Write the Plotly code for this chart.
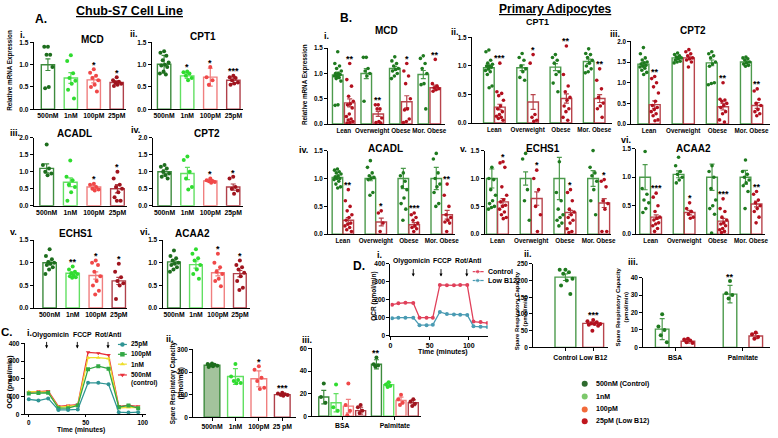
import plotly.graph_objects as go

W, H = 778, 438
FONT = "Liberation Sans"

# ====================== DATA ======================
A_doses = ["500nM", "1nM", "100pM", "25pM"]

A_MCD_mean = [1.00, 0.70, 0.66, 0.60]
A_MCD_sem = [0.13, 0.12, 0.07, 0.04]
A_MCD_sig = ["", "", "*", "*"]
A_MCD_dots = [[1.40, 1.40, 1.22, 1.22, 0.95, 0.50, 0.47],
              [1.21, 1.08, 0.81, 0.70, 0.64, 0.57, 0.44, 0.24],
              [0.90, 0.82, 0.75, 0.70, 0.65, 0.55, 0.50, 0.40],
              [0.72, 0.65, 0.62, 0.60, 0.57, 0.55, 0.52]]

A_CPT1_mean = [1.01, 0.75, 0.72, 0.65]
A_CPT1_sem = [0.20, 0.06, 0.20, 0.08]
A_CPT1_sig = ["", "*", "*", "***"]
A_CPT1_dots = [[1.30, 1.27, 1.20, 1.10, 1.05, 1.00, 0.98, 0.95, 0.85, 0.80, 0.78],
               [0.85, 0.83, 0.80, 0.75, 0.70, 0.65],
               [0.95, 0.72, 0.65, 0.55],
               [0.75, 0.72, 0.70, 0.65, 0.60, 0.58, 0.55]]

A_ACADL_mean = [1.10, 0.69, 0.55, 0.50]
A_ACADL_sem = [0.13, 0.13, 0.05, 0.12]
A_ACADL_sig = ["", "", "*", "*"]
A_ACADL_dots = [[1.80, 1.20, 1.10, 1.00, 0.95, 0.90],
                [1.33, 0.85, 0.75, 0.62, 0.55, 0.40, 0.15],
                [0.65, 0.62, 0.55, 0.50, 0.48, 0.45],
                [1.00, 0.80, 0.62, 0.55, 0.50, 0.40, 0.25, 0.15, 0.15]]

A_CPT2_mean = [1.00, 0.95, 0.73, 0.55]
A_CPT2_sem = [0.06, 0.18, 0.03, 0.09]
A_CPT2_sig = ["", "", "*", "*"]
A_CPT2_dots = [[1.20, 1.15, 1.10, 1.00, 0.95, 0.90, 0.85, 0.80],
               [1.45, 1.35, 1.00, 0.80, 0.55, 0.48],
               [0.80, 0.75, 0.73, 0.72, 0.70, 0.68],
               [0.85, 0.80, 0.55, 0.50, 0.45, 0.35]]

A_ECHS1_mean = [1.00, 0.77, 0.72, 0.60]
A_ECHS1_sem = [0.04, 0.03, 0.08, 0.08]
A_ECHS1_sig = ["", "**", "*", "*"]
A_ECHS1_dots = [[1.30, 1.15, 1.08, 1.02, 1.00, 0.98, 0.95, 0.90, 0.85, 0.75],
                [0.92, 0.85, 0.80, 0.77, 0.75, 0.72, 0.70, 0.68, 0.67],
                [1.05, 1.00, 0.95, 0.80, 0.70, 0.60, 0.50, 0.38, 0.30],
                [0.98, 0.80, 0.68, 0.60, 0.55, 0.50, 0.20]]

A_ACAA2_mean = [1.02, 0.96, 0.78, 0.76]
A_ACAA2_sem = [0.04, 0.08, 0.07, 0.07]
A_ACAA2_sig = ["", "", "*", "*"]
A_ACAA2_dots = [[1.27, 1.15, 1.10, 1.05, 1.00, 0.98, 0.95, 0.90, 0.85, 0.80],
                [1.30, 1.20, 1.10, 1.05, 0.95, 0.85, 0.75, 0.65],
                [1.20, 1.00, 0.90, 0.80, 0.75, 0.65, 0.60, 0.48],
                [1.05, 0.95, 0.90, 0.85, 0.78, 0.70, 0.60, 0.45, 0.40]]

B_groups = ["Lean", "Overweight", "Obese", "Mor. Obese"]

B_MCD_ctrl_mean = [0.97, 1.00, 1.10, 0.98]
B_MCD_ctrl_sem = [0.06, 0.10, 0.04, 0.08]
B_MCD_ctrl_dots = [[1.43, 1.20, 1.15, 1.10, 1.05, 1.00, 1.00, 0.98, 0.95, 0.95, 0.92, 0.90, 0.85, 0.38, 0.37],
                   [1.32, 1.32, 1.10, 1.05, 1.00, 0.95, 0.45],
                   [1.33, 1.25, 1.20, 1.15, 1.10, 1.08, 1.05, 1.00, 0.95, 0.90],
                   [1.35, 1.30, 1.20, 1.10, 1.00, 0.80, 0.78, 0.30]]
B_MCD_low_mean = [0.42, 0.20, 0.44, 0.72]
B_MCD_low_sem = [0.08, 0.05, 0.12, 0.05]
B_MCD_low_dots = [[1.20, 0.88, 0.75, 0.55, 0.45, 0.40, 0.38, 0.32, 0.20, 0.15, 0.10, 0.08, 0.05, 0.03, 0.02],
                  [0.38, 0.38, 0.30, 0.30, 0.12, 0.05, 0.03, 0.02],
                  [1.20, 1.05, 0.95, 0.80, 0.50, 0.30, 0.28, 0.10, 0.05, 0.03],
                  [1.28, 0.80, 0.75, 0.72, 0.70, 0.68, 0.65]]
B_MCD_sig = ["**", "**", "*", "**"]

B_CPT1_ctrl_mean = [0.97, 0.97, 0.98, 1.08]
B_CPT1_ctrl_sem = [0.04, 0.05, 0.06, 0.04]
B_CPT1_ctrl_dots = [[1.28, 1.25, 1.10, 1.05, 1.03, 1.00, 1.00, 0.98, 0.95, 0.92, 0.90, 0.85, 0.65, 0.62],
                    [1.22, 1.15, 1.10, 1.00, 0.95, 0.90, 0.80, 0.75],
                    [1.20, 1.15, 1.10, 1.05, 0.90, 0.85, 0.70, 0.55],
                    [1.30, 1.22, 1.20, 1.15, 1.10, 1.05, 1.00, 0.95, 0.90, 0.88]]
B_CPT1_low_mean = [0.28, 0.37, 0.43, 0.43]
B_CPT1_low_sem = [0.05, 0.13, 0.08, 0.07]
B_CPT1_low_dots = [[1.05, 0.55, 0.52, 0.48, 0.40, 0.30, 0.25, 0.20, 0.15, 0.12, 0.10, 0.08, 0.05],
                   [1.20, 1.05, 0.15, 0.10, 0.05, 0.03],
                   [1.35, 0.85, 0.65, 0.55, 0.45, 0.40, 0.30, 0.25, 0.20, 0.10, 0.05],
                   [0.95, 0.75, 0.60, 0.45, 0.35, 0.30, 0.25, 0.10]]
B_CPT1_sig = ["***", "*", "**", "**"]

B_CPT2_ctrl_mean = [1.45, 1.60, 1.48, 1.50]
B_CPT2_ctrl_sem = [0.04, 0.03, 0.07, 0.03]
B_CPT2_ctrl_dots = [[1.85, 1.70, 1.60, 1.55, 1.50, 1.48, 1.45, 1.42, 1.40, 1.38, 1.35, 1.30, 1.25, 1.20],
                    [1.72, 1.68, 1.65, 1.62, 1.60, 1.58, 1.55, 1.52, 1.50, 1.48],
                    [1.75, 1.70, 1.65, 1.60, 1.50, 1.45, 1.40, 1.00, 0.98, 0.95],
                    [1.62, 1.60, 1.58, 1.55, 1.50, 1.48, 1.45, 1.42, 1.40]]
B_CPT2_low_mean = [0.47, 1.60, 0.42, 0.45]
B_CPT2_low_sem = [0.09, 0.04, 0.08, 0.07]
B_CPT2_low_dots = [[1.15, 1.10, 1.00, 0.90, 0.75, 0.55, 0.45, 0.40, 0.35, 0.30, 0.25, 0.20, 0.10, 0.08],
                   [1.80, 1.75, 1.70, 1.65, 1.60, 1.58, 1.55, 1.50, 1.38],
                   [1.00, 0.60, 0.58, 0.55, 0.50, 0.45, 0.40, 0.30, 0.25, 0.10, 0.05],
                   [0.85, 0.80, 0.60, 0.50, 0.45, 0.35, 0.30, 0.25, 0.20]]
B_CPT2_sig = ["**", "", "**", "**"]

B_ACADL_ctrl_mean = [1.02, 1.00, 1.00, 1.00]
B_ACADL_ctrl_sem = [0.02, 0.04, 0.18, 0.20]
B_ACADL_ctrl_dots = [[1.17, 1.15, 1.12, 1.10, 1.08, 1.05, 1.03, 1.00, 1.00, 0.98, 0.95, 0.90, 0.85, 0.83],
                     [1.32, 1.20, 1.10, 1.05, 1.02, 1.00, 0.98, 0.75, 0.70],
                     [1.10, 1.05, 0.95, 0.85, 0.80, 0.65, 0.55, 0.45, 0.25],
                     [1.45, 1.35, 1.10, 1.00, 0.90, 0.85, 0.75, 0.55, 0.50]]
B_ACADL_low_mean = [0.25, 0.22, 0.17, 0.35]
B_ACADL_low_sem = [0.05, 0.07, 0.04, 0.08]
B_ACADL_low_dots = [[0.80, 0.60, 0.50, 0.42, 0.35, 0.30, 0.25, 0.20, 0.18, 0.15, 0.12, 0.08, 0.05],
                    [0.42, 0.38, 0.20, 0.05],
                    [0.38, 0.35, 0.30, 0.25, 0.20, 0.15, 0.12, 0.10, 0.05],
                    [0.90, 0.70, 0.50, 0.35, 0.30, 0.25, 0.22, 0.20, 0.05]]
B_ACADL_sig = ["**", "*", "***", "**"]

B_ECHS1_ctrl_mean = [1.00, 1.00, 1.00, 1.00]
B_ECHS1_ctrl_sem = [0.17, 0.12, 0.38, 0.14]
B_ECHS1_ctrl_dots = [[1.20, 1.00, 0.98, 0.80, 0.70, 0.60, 0.55, 0.50, 0.48, 0.45],
                     [1.45, 1.35, 0.80, 0.60, 0.25],
                     [1.30, 0.75, 0.60, 0.45, 0.35, 0.30, 0.25, 0.20, 0.15],
                     [1.50, 1.20, 1.10, 1.05, 0.95, 0.80, 0.60, 0.35]]
B_ECHS1_low_mean = [0.58, 0.64, 0.39, 0.56]
B_ECHS1_low_sem = [0.06, 0.12, 0.04, 0.08]
B_ECHS1_low_dots = [[1.30, 1.28, 1.20, 0.85, 0.70, 0.62, 0.58, 0.52, 0.50, 0.45, 0.40, 0.35, 0.30, 0.28],
                    [1.15, 1.00, 0.80, 0.50, 0.35, 0.05],
                    [0.80, 0.75, 0.60, 0.45, 0.40, 0.35, 0.30, 0.25, 0.20, 0.10, 0.05, 0.03],
                    [0.98, 0.95, 0.85, 0.60, 0.55, 0.45, 0.05, 0.05]]
B_ECHS1_sig = ["*", "*", "*", "*"]

B_ACAA2_ctrl_mean = [1.00, 1.05, 1.00, 1.00]
B_ACAA2_ctrl_sem = [0.22, 0.06, 0.23, 0.12]
B_ACAA2_ctrl_dots = [[1.45, 0.80, 0.70, 0.60, 0.55, 0.45, 0.38],
                     [1.35, 1.20, 1.10, 1.05, 1.00, 0.95, 0.90],
                     [1.20, 1.10, 1.00, 0.80, 0.60, 0.50, 0.45, 0.35, 0.02],
                     [1.30, 1.10, 1.05, 1.00, 0.95, 0.90, 0.85, 0.75, 0.45]]
B_ACAA2_low_mean = [0.30, 0.38, 0.23, 0.53]
B_ACAA2_low_sem = [0.04, 0.04, 0.05, 0.05]
B_ACAA2_low_dots = [[0.72, 0.65, 0.50, 0.40, 0.30, 0.28, 0.25, 0.20, 0.18, 0.15, 0.10, 0.05],
                    [0.55, 0.45, 0.40, 0.35, 0.30, 0.28],
                    [0.62, 0.45, 0.40, 0.30, 0.25, 0.20, 0.18, 0.15, 0.10, 0.08, 0.05, 0.03],
                    [0.75, 0.70, 0.60, 0.55, 0.50, 0.45, 0.40, 0.30, 0.20]]
B_ACAA2_sig = ["***", "*", "***", "**"]

C_time = [0, 8.5, 17, 26, 34.5, 43, 52, 61, 70, 79, 87.5, 96]
C_ocr_25pM = [85, 78, 90, 25, 25, 28, 178, 178, 170, 12, 10, 12]
C_ocr_100pM = [118, 120, 122, 35, 35, 50, 255, 272, 258, 40, 50, 35]
C_ocr_1nM = [128, 125, 125, 40, 45, 50, 320, 320, 315, 35, 40, 38]
C_ocr_500nM = [124, 130, 132, 45, 50, 55, 350, 345, 335, 45, 50, 45]
C_injections = ["Olygomicin", "FCCP", "Rot/Anti"]

C_src_labels = ["500nM", "1nM", "100pM", "25 pM"]
C_src_mean = [230, 180, 170, 100]
C_src_sem = [6, 35, 35, 5]
C_src_sig = ["", "", "*", "***"]
C_src_dots = [[238, 235, 232, 230, 228, 225, 222],
              [235, 180, 165, 160, 152, 150],
              [225, 210, 175, 160, 130, 125],
              [108, 105, 102, 100, 98, 95]]

C_fa_groups = ["BSA", "Palmitate"]
C_fa_bsa_mean = [17, 12, 9, 5]
C_fa_bsa_sem = [6, 8, 6, 3]
C_fa_bsa_dots = [[29, 17, 12], [28, 8, 5], [29, 10, 5, 1], [10, 8, 5, 3]]
C_fa_palm_mean = [46, 28, 14, 12]
C_fa_palm_sem = [4, 2, 3, 2.5]
C_fa_palm_dots = [[52, 46, 45, 44], [30, 28, 27, 26], [19, 15, 12, 10], [15, 13, 11, 9]]
C_fa_palm_sig = ["**", "", "", ""]

D_time = [2, 10, 19, 29, 37, 46, 54, 63, 72, 81, 89, 98, 106, 115, 124]
D_ocr_control = [172, 180, 183, 182, 100, 100, 100, 282, 280, 280, 282, 282, 78, 76, 70]
D_ocr_low = [96, 100, 100, 100, 58, 58, 60, 132, 120, 118, 116, 115, 52, 50, 48]

D_src_labels = ["Control", "Low B12"]
D_src_mean = [210, 72]
D_src_sem = [10, 4]
D_src_sig = ["", "***"]
D_src_dots = [[232, 232, 225, 220, 205, 200, 185, 160],
              [82, 78, 75, 72, 70, 70, 68, 65, 50]]

D_fa_groups = ["BSA", "Palmitate"]
D_fa_ctrl_mean = [10.5, 30.5]
D_fa_ctrl_sem = [6, 5]
D_fa_ctrl_dots = [[19, 12, 10, 7, 3], [38, 31, 30, 28]]
D_fa_low_mean = [3.5, 6.5]
D_fa_low_sem = [1, 1.5]
D_fa_low_dots = [[5, 4.5, 4, 3, 2.5], [8.5, 7.5, 6, 5]]
D_fa_sig = ["", "**"]

legend_labels = ["500nM (Control)", "1nM", "100pM", "25pM (Low B12)"]

# ====================== STYLE ======================
A_line = ["#3d8b3d", "#62e062", "#f07f7f", "#b0404a"]
A_dot = ["#1e6e1e", "#2fdc2f", "#f04848", "#a0141e"]
B_line = ["#4c9a4c", "#b8444c"]
B_dot = ["#1f7a1f", "#b3101e"]
C_line_cols = {"25pM": "#2f9494", "100pM": "#33a844", "1nM": "#eede2c", "500nM": "#e8303a"}
D_line_cols = {"Control": "#e0405a", "Low B12": "#4a9bb3"}
LEG_COLS = ["#2e6b2e", "#7cc86b", "#f26a3a", "#c0161e"]

fig = go.Figure()
layout = dict(width=W, height=H, margin=dict(l=0, r=0, t=0, b=0),
              paper_bgcolor="white", plot_bgcolor="rgba(0,0,0,0)",
              barmode="overlay", showlegend=False,
              font=dict(family=FONT, color="black"))
annotations = []
n_ax = [0]


def P(x, y):
    return x / W, 1 - y / H


def text(x, y, s, size=8, bold=True, angle=0, color="black", xanchor="center", yanchor="middle"):
    px, py = P(x, y)
    annotations.append(dict(x=px, y=py, xref="paper", yref="paper", text=s, showarrow=False,
                            textangle=angle, xanchor=xanchor, yanchor=yanchor,
                            font=dict(family=FONT, size=size, color=color,
                                      weight="bold" if bold else "normal")))


def arrow(x, y0, y1):
    px, py = P(x, y1)
    annotations.append(dict(x=px, y=py, xref="paper", yref="paper", text="", showarrow=True,
                            ax=0, ay=-(y1 - y0), arrowhead=2, arrowsize=0.7, arrowwidth=0.9,
                            arrowcolor="black"))


def axes(box, xr, yr, xticks=None, xlabels=None, ydtick=None, yfmt=None, xtick_len=0,
         xfont=7, yfont=7, xdtick=None):
    n_ax[0] += 1
    s = "" if n_ax[0] == 1 else str(n_ax[0])
    x0, yt, x1, yb = box
    tf = dict(family=FONT, size=xfont, color="black", weight="bold")
    xa = dict(domain=[x0 / W, x1 / W], anchor="y" + s, range=xr, showline=True,
              linecolor="black", linewidth=1, showgrid=False, zeroline=False,
              ticks="outside" if xtick_len else "", ticklen=xtick_len, tickwidth=1,
              tickcolor="black", tickangle=0, tickfont=tf, fixedrange=True)
    if xticks is not None:
        xa.update(tickmode="array", tickvals=xticks, ticktext=xlabels)
    elif xdtick is not None:
        xa.update(tick0=0, dtick=xdtick)
    ya = dict(domain=[1 - yb / H, 1 - yt / H], anchor="x" + s, range=yr, showline=True,
              linecolor="black", linewidth=1, showgrid=False, zeroline=False,
              ticks="outside", ticklen=3, tickwidth=1, tickcolor="black",
              tick0=0, dtick=ydtick, tickformat=yfmt,
              tickfont=dict(family=FONT, size=yfont, color="black", weight="bold"),
              fixedrange=True)
    layout["xaxis" + s] = xa
    layout["yaxis" + s] = ya
    return "x" + s, "y" + s


def spread(n, half):
    if n <= 1:
        return [0.0]
    return [half * ((((k * 0.6180339) + 0.5) % 1.0) * 2 - 1) for k in range(n)]


def add_bar(xa, ya, pos, mean, sem, dots, lc, dc, width, dsize, fill="white", lw=1.4):
    fig.add_trace(go.Bar(x=[pos], y=[mean], width=width, xaxis=xa, yaxis=ya,
                         marker=dict(color=fill, line=dict(color=lc, width=lw)),
                         error_y=dict(type="data", array=[sem], color=lc, thickness=1.2,
                                      width=2.5),
                         hoverinfo="skip"))
    offs = spread(len(dots), width * 0.36)
    fig.add_trace(go.Scatter(x=[pos + o for o in offs], y=dots, xaxis=xa, yaxis=ya,
                             mode="markers", marker=dict(color=dc, size=dsize),
                             hoverinfo="skip", cliponaxis=False))
    return max(max(dots), mean + sem)


def star(xa, ya, pos, top, s, rng, size=9):
    if not s:
        return
    annotations.append(dict(x=pos, y=top + rng * 0.02, xref=xa, yref=ya, text=s,
                            showarrow=False, yanchor="bottom", yshift=-4,
                            font=dict(family=FONT, size=size, color="black", weight="bold")))


# ====================== PANEL A ======================
A_panels = [
    ((32, 39, 125, 107), [-0.62, 3.4], 1.5, A_MCD_mean, A_MCD_sem, A_MCD_dots, A_MCD_sig),
    ((151, 39, 243, 107), [-0.54, 3.41], 1.5, A_CPT1_mean, A_CPT1_sem, A_CPT1_dots, A_CPT1_sig),
    ((32, 136, 126, 205), [-0.55, 3.4], 2.0, A_ACADL_mean, A_ACADL_sem, A_ACADL_dots, A_ACADL_sig),
    ((152, 136, 243, 205), [-0.52, 3.42], 2.0, A_CPT2_mean, A_CPT2_sem, A_CPT2_dots, A_CPT2_sig),
    ((32, 240, 126, 309), [-0.69, 3.35], 1.5, A_ECHS1_mean, A_ECHS1_sem, A_ECHS1_dots, A_ECHS1_sig),
    ((162, 240, 250, 309), [-0.52, 3.45], 1.5, A_ACAA2_mean, A_ACAA2_sem, A_ACAA2_dots, A_ACAA2_sig),
]
for box, xr, ymax, means, sems, dots, sig in A_panels:
    xa, ya = axes(box, xr, [0, ymax], xticks=list(range(4)), xlabels=A_doses,
                  ydtick=0.5, yfmt=".1f", xfont=6.8, yfont=6.5)
    for i in range(4):
        top = add_bar(xa, ya, i, means[i], sems[i], dots[i], A_line[i], A_dot[i], 0.58, 4)
        star(xa, ya, i, top, sig[i], ymax)

# ====================== PANEL B ======================
B_panels = [
    ((329, 45, 447, 122), [-0.55, 3.55], 1.5, 0.37, 0.21, "MCD"),
    ((474, 34, 616, 121), [-0.68, 3.55], 1.5, 0.32, 0.165, "CPT1"),
    ((635, 38, 775, 122), [-0.52, 3.54], 2.0, 0.32, 0.165, "CPT2"),
    ((329, 149, 457, 234), [-0.45, 3.4], 1.5, 0.32, 0.165, "ACADL"),
    ((487, 149, 615, 234), [-0.38, 3.38], 1.5, 0.32, 0.165, "ECHS1"),
    ((640, 147, 770, 234), [-0.43, 3.42], 1.5, 0.32, 0.165, "ACAA2"),
]
B_data = {
    "MCD": (B_MCD_ctrl_mean, B_MCD_ctrl_sem, B_MCD_ctrl_dots, B_MCD_low_mean, B_MCD_low_sem, B_MCD_low_dots, B_MCD_sig),
    "CPT1": (B_CPT1_ctrl_mean, B_CPT1_ctrl_sem, B_CPT1_ctrl_dots, B_CPT1_low_mean, B_CPT1_low_sem, B_CPT1_low_dots, B_CPT1_sig),
    "CPT2": (B_CPT2_ctrl_mean, B_CPT2_ctrl_sem, B_CPT2_ctrl_dots, B_CPT2_low_mean, B_CPT2_low_sem, B_CPT2_low_dots, B_CPT2_sig),
    "ACADL": (B_ACADL_ctrl_mean, B_ACADL_ctrl_sem, B_ACADL_ctrl_dots, B_ACADL_low_mean, B_ACADL_low_sem, B_ACADL_low_dots, B_ACADL_sig),
    "ECHS1": (B_ECHS1_ctrl_mean, B_ECHS1_ctrl_sem, B_ECHS1_ctrl_dots, B_ECHS1_low_mean, B_ECHS1_low_sem, B_ECHS1_low_dots, B_ECHS1_sig),
    "ACAA2": (B_ACAA2_ctrl_mean, B_ACAA2_ctrl_sem, B_ACAA2_ctrl_dots, B_ACAA2_low_mean, B_ACAA2_low_sem, B_ACAA2_low_dots, B_ACAA2_sig),
}
for box, xr, ymax, bw, off, key in B_panels:
    cm, cs, cd, lm, ls, ld, sig = B_data[key]
    xa, ya = axes(box, xr, [0, ymax], xticks=list(range(4)), xlabels=B_groups,
                  ydtick=0.5, yfmt=".1f", xfont=6.3, yfont=6.3)
    for g in range(4):
        add_bar(xa, ya, g - off, cm[g], cs[g], cd[g], B_line[0], B_dot[0], bw, 3.6)
        top = add_bar(xa, ya, g + off, lm[g], ls[g], ld[g], B_line[1], B_dot[1], bw, 3.6)
        star(xa, ya, g + off, top, sig[g], ymax)

# ====================== PANEL C ======================
xa, ya = axes((23, 345, 145, 417), [-3.5, 102.6], [0, 400], ydtick=100, xdtick=50,
              xtick_len=2, xfont=6.3, yfont=6.5)
for name, vals, sym in [("500nM", C_ocr_500nM, "triangle-down"), ("1nM", C_ocr_1nM, "triangle-up"),
                        ("100pM", C_ocr_100pM, "square"), ("25pM", C_ocr_25pM, "circle")]:
    fig.add_trace(go.Scatter(x=C_time, y=vals, xaxis=xa, yaxis=ya, mode="lines+markers",
                             line=dict(color=C_line_cols[name], width=1.3),
                             marker=dict(color=C_line_cols[name], size=4, symbol=sym),
                             hoverinfo="skip"))

xa, ya = axes((193, 351, 297, 420), [-0.8, 3.6], [0, 300], xticks=list(range(4)),
              xlabels=C_src_labels, ydtick=100, xtick_len=3, xfont=6.8, yfont=6.5)
for i in range(4):
    fill = "#a3c39c" if i == 0 else "white"
    top = add_bar(xa, ya, i, C_src_mean[i], C_src_sem[i], C_src_dots[i], A_line[i], A_dot[i],
                  0.67, 4, fill=fill)
    star(xa, ya, i, top, C_src_sig[i], 300)

xa, ya = axes((313, 350, 423, 419), [-0.57, 1.5], [0, 60], xticks=[0, 1],
              xlabels=C_fa_groups, ydtick=20, xtick_len=3, xfont=6.8, yfont=6.5)
offs4 = [-0.35, -0.117, 0.117, 0.35]
for i in range(4):
    add_bar(xa, ya, 0 + offs4[i], C_fa_bsa_mean[i], C_fa_bsa_sem[i], C_fa_bsa_dots[i],
            A_line[i], A_dot[i], 0.19, 4)
    top = add_bar(xa, ya, 1 + offs4[i], C_fa_palm_mean[i], C_fa_palm_sem[i], C_fa_palm_dots[i],
                  A_line[i], A_dot[i], 0.19, 4)
    star(xa, ya, 1 + offs4[i], top, C_fa_palm_sig[i], 60)

# ====================== PANEL D ======================
xa, ya = axes((392, 264, 490, 337), [-0.1, 124], [0, 400], ydtick=100, xdtick=50,
              xtick_len=3, xfont=7, yfont=6.5)
for name, vals in [("Control", D_ocr_control), ("Low B12", D_ocr_low)]:
    fig.add_trace(go.Scatter(x=D_time, y=vals, xaxis=xa, yaxis=ya, mode="lines+markers",
                             line=dict(color=D_line_cols[name], width=1.3),
                             marker=dict(color=D_line_cols[name], size=4),
                             hoverinfo="skip"))

xa, ya = axes((536, 264, 612, 349), [-1.16, 1.55], [0, 250], xticks=[0, 1],
              xlabels=D_src_labels, ydtick=50, xtick_len=3, xfont=6.8, yfont=6.5)
for i in range(2):
    top = add_bar(xa, ya, i, D_src_mean[i], D_src_sem[i], D_src_dots[i], B_line[i], B_dot[i],
                  0.75, 4)
    star(xa, ya, i, top, D_src_sig[i], 250)

xa, ya = axes((647, 278, 775, 349), [-0.47, 1.4], [0, 40], xticks=[0, 1],
              xlabels=D_fa_groups, ydtick=10, xtick_len=3, xfont=6.8, yfont=6.5)
for g in range(2):
    add_bar(xa, ya, g - 0.19, D_fa_ctrl_mean[g], D_fa_ctrl_sem[g], D_fa_ctrl_dots[g],
            B_line[0], B_dot[0], 0.2, 4)
    add_bar(xa, ya, g + 0.19, D_fa_low_mean[g], D_fa_low_sem[g], D_fa_low_dots[g],
            B_line[1], B_dot[1], 0.2, 4)
    top = max(max(D_fa_ctrl_dots[g]), D_fa_ctrl_mean[g] + D_fa_ctrl_sem[g])
    star(xa, ya, g - 0.19, top, D_fa_sig[g], 40)

# ====================== LEGEND OVERLAY AXIS ======================
n_ax[0] += 1
s = str(n_ax[0])
layout["xaxis" + s] = dict(domain=[0, 1], range=[0, W], visible=False, fixedrange=True,
                           anchor="y" + s)
layout["yaxis" + s] = dict(domain=[0, 1], range=[H, 0], visible=False, fixedrange=True,
                           anchor="x" + s)
LX, LY = "x" + s, "y" + s

# C.i legend
for (name, sym), yy in zip([("25pM", "circle"), ("100pM", "square"), ("1nM", "triangle-up"),
                            ("500nM", "triangle-down")], [346, 356, 366, 377]):
    fig.add_trace(go.Scatter(x=[117, 121.5, 126], y=[yy, yy, yy], xaxis=LX, yaxis=LY,
                             mode="lines", line=dict(color=C_line_cols[name], width=1.2),
                             hoverinfo="skip"))
    fig.add_trace(go.Scatter(x=[121.5], y=[yy], xaxis=LX, yaxis=LY, mode="markers",
                             marker=dict(color=C_line_cols[name], size=4.5, symbol=sym),
                             hoverinfo="skip"))
text(128, 346, "25pM", 6.5, xanchor="left")
text(128, 356, "100pM", 6.5, xanchor="left")
text(128, 366, "1nM", 6.5, xanchor="left")
text(128, 377, "500nM", 6.5, xanchor="left")
text(128, 385, "(control)", 6.5, xanchor="left")

# D.i legend
for name, yy in [("Control", 272), ("Low B12", 281)]:
    fig.add_trace(go.Scatter(x=[475, 480, 486], y=[yy, yy, yy], xaxis=LX, yaxis=LY,
                             mode="lines+markers",
                             line=dict(color=D_line_cols[name], width=1.2),
                             marker=dict(color=D_line_cols[name], size=[0, 4.5, 0]),
                             hoverinfo="skip"))
    text(488, yy, name, 7, xanchor="left")

# bottom-right legend
for lab, col, yy in zip(legend_labels, LEG_COLS, [386, 399, 412, 424]):
    fig.add_trace(go.Scatter(x=[588], y=[yy], xaxis=LX, yaxis=LY, mode="markers",
                             marker=dict(color=col, size=6), hoverinfo="skip"))
    text(597, yy, lab, 7, xanchor="left")

# ====================== TEXT ======================
text(129, 7, "<u>Chub-S7 Cell Line</u>", 12.5)
text(559, 5.5, "<u>Primary Adipocytes</u>", 12)
text(39, 15, "A.", 12)
text(347, 14, "B.", 12)
text(5, 333, "C.", 11.5)
text(360, 266, "D.", 12)

for s_, x_, y_ in [("i.", 21, 32), ("ii.", 133, 30), ("iii.", 13, 131), ("iv.", 135, 128),
                   ("v.", 12, 232), ("vi.", 144, 232),
                   ("i.", 327, 33), ("ii.", 457, 28), ("iii.", 619, 30), ("iv.", 304, 148),
                   ("v.", 466, 147), ("vi.", 630, 138),
                   ("i.", 28, 334), ("ii.", 170, 340), ("iii.", 308, 341),
                   ("i.", 381, 255), ("ii.", 531, 254), ("iii.", 637, 262)]:
    text(x_, y_, s_, 9)

for s_, x_, y_ in [("MCD", 91, 36), ("CPT1", 203, 33), ("ACADL", 73, 132), ("CPT2", 207, 132),
                   ("ECHS1", 75, 233), ("ACAA2", 192, 233),
                   ("MCD", 388, 27), ("CPT2", 697, 27), ("ACADL", 387, 147),
                   ("ECHS1", 546, 147), ("ACAA2", 698, 147)]:
    text(x_, y_, s_, 10)
text(540, 18.5, "CPT1", 9)

text(8, 384, "OCR (pmol/min)", 7, angle=-90)
text(8, 67, "Relative mRNA Expression", 6.3, angle=-90)
text(305, 82, "Relative mRNA Expression", 6.3, angle=-90)
text(376, 297, "OCR (pmol/min)", 6.5, angle=-90)
text(176, 385, "Spare Respiratory Capacity<br>(pmol/min)", 6.3, angle=-90)
text(524, 312, "Spare Respiratory Capacity<br>(pmol/min)", 6, angle=-90)
text(626, 308, "Spare Respiratory Capacity<br>(pmol/min)", 6, angle=-90)
text(80, 433, "Time (minutes)", 6.8)
text(445, 354, "Time (minutes)", 7)

for lab, lx, ax_ in zip(C_injections, [49, 81, 107], [45, 76, 107]):
    text(lx, 336, lab, 6.8)
    arrow(ax_, 342, 350)
for lab, lx, ax_ in zip(C_injections, [413, 444, 471], [415, 443, 469]):
    text(lx, 261, lab, 6.8)
    arrow(ax_, 268, 277)

layout["annotations"] = annotations
fig.update_layout(**layout)
fig.write_html("out.html", config={"displayModeBar": False, "staticPlot": True},
               post_script="document.body.style.margin='0';document.body.style.overflow='hidden';")
